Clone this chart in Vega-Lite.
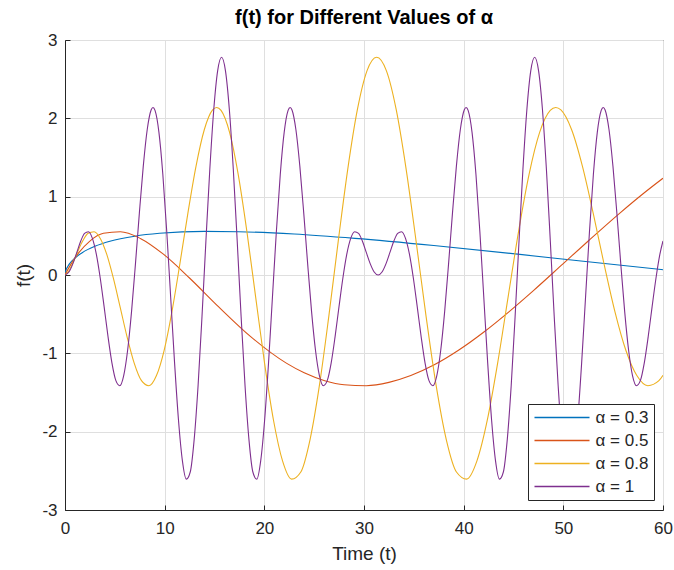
{
 "$schema": "https://vega.github.io/schema/vega-lite/v6.json",
 "width": 598,
 "height": 470,
 "autosize": "none",
 "padding": {"left": 65, "top": 40, "right": 11, "bottom": 60},
 "background": "white",
 "title": {"text": "f(t) for Different Values of α", "fontSize": 20, "fontWeight": "bold", "font": "Liberation Sans", "color": "black", "offset": 3, "anchor": "middle"},
 "config": {"view": {"stroke": "#262626", "strokeWidth": 1}, "font": "Liberation Sans"},
 "data": {"values": [
  {"a":"α = 0.3","t":0,"f":0},{"a":"α = 0.3","t":0.044,"f":0.038},{"a":"α = 0.3","t":0.447,"f":0.142},{"a":"α = 0.3","t":1,"f":0.217},{"a":"α = 0.3","t":1.727,"f":0.285},{"a":"α = 0.3","t":3,"f":0.366},{"a":"α = 0.3","t":4.506,"f":0.430},{"a":"α = 0.3","t":7,"f":0.495},{"a":"α = 0.3","t":9.479,"f":0.532},{"a":"α = 0.3","t":14,"f":0.557},{"a":"α = 0.3","t":17.408,"f":0.553},{"a":"α = 0.3","t":23,"f":0.523},{"a":"α = 0.3","t":29.095,"f":0.467},{"a":"α = 0.3","t":37,"f":0.376},{"a":"α = 0.3","t":45.41,"f":0.266},{"a":"α = 0.3","t":52,"f":0.175},{"a":"α = 0.3","t":60,"f":0.067},

  {"a":"α = 0.5","t":0,"f":0},{"a":"α = 0.5","t":0.154,"f":0.038},{"a":"α = 0.5","t":0.617,"f":0.142},{"a":"α = 0.5","t":1.388,"f":0.285},{"a":"α = 0.5","t":2.467,"f":0.430},{"a":"α = 0.5","t":3.855,"f":0.532},{"a":"α = 0.5","t":5.552,"f":0.553},{"a":"α = 0.5","t":7.557,"f":0.467},{"a":"α = 0.5","t":9.870,"f":0.266},{"a":"α = 0.5","t":12.491,"f":-0.038},{"a":"α = 0.5","t":15.421,"f":-0.407},{"a":"α = 0.5","t":18.660,"f":-0.790},{"a":"α = 0.5","t":22.207,"f":-1.125},{"a":"α = 0.5","t":24,"f":-1.248},{"a":"α = 0.5","t":26.062,"f":-1.349},{"a":"α = 0.5","t":28,"f":-1.401},{"a":"α = 0.5","t":30.226,"f":-1.413},{"a":"α = 0.5","t":32.5,"f":-1.371},{"a":"α = 0.5","t":34.698,"f":-1.284},{"a":"α = 0.5","t":37,"f":-1.150},{"a":"α = 0.5","t":39.478,"f":-0.961},{"a":"α = 0.5","t":42,"f":-0.731},{"a":"α = 0.5","t":44.567,"f":-0.467},{"a":"α = 0.5","t":47,"f":-0.199},{"a":"α = 0.5","t":49.965,"f":0.142},{"a":"α = 0.5","t":52.5,"f":0.434},{"a":"α = 0.5","t":55.671,"f":0.790},{"a":"α = 0.5","t":58,"f":1.037},{"a":"α = 0.5","t":60,"f":1.235},

  {"a":"α = 0.8","t":0,"f":0},{"a":"α = 0.8","t":0.311,"f":0.038},{"a":"α = 0.8","t":0.739,"f":0.142},{"a":"α = 0.8","t":1.227,"f":0.285},{"a":"α = 0.8","t":1.759,"f":0.430},{"a":"α = 0.8","t":2.324,"f":0.532},{"a":"α = 0.8","t":2.919,"f":0.553},{"a":"α = 0.8","t":3.540,"f":0.467},{"a":"α = 0.8","t":4.183,"f":0.266},{"a":"α = 0.8","t":4.846,"f":-0.038},{"a":"α = 0.8","t":5.528,"f":-0.407},{"a":"α = 0.8","t":6.228,"f":-0.790},{"a":"α = 0.8","t":6.943,"f":-1.125},{"a":"α = 0.8","t":7.674,"f":-1.349},{"a":"α = 0.8","t":8.419,"f":-1.413},{"a":"α = 0.8","t":9.177,"f":-1.284},{"a":"α = 0.8","t":9.948,"f":-0.961},{"a":"α = 0.8","t":10.731,"f":-0.467},{"a":"α = 0.8","t":11.525,"f":0.142},{"a":"α = 0.8","t":12.331,"f":0.790},{"a":"α = 0.8","t":13.148,"f":1.390},{"a":"α = 0.8","t":13.975,"f":1.854},{"a":"α = 0.8","t":14.812,"f":2.107},{"a":"α = 0.8","t":15.221,"f":2.139},{"a":"α = 0.8","t":15.658,"f":2.101},{"a":"α = 0.8","t":16.513,"f":1.820},{"a":"α = 0.8","t":17.378,"f":1.284},{"a":"α = 0.8","t":18.252,"f":0.553},{"a":"α = 0.8","t":19.133,"f":-0.285},{"a":"α = 0.8","t":20.023,"f":-1.125},{"a":"α = 0.8","t":20.920,"f":-1.854},{"a":"α = 0.8","t":21.827,"f":-2.373},{"a":"α = 0.8","t":22.739,"f":-2.606},{"a":"α = 0.8","t":23.660,"f":-2.515},{"a":"α = 0.8","t":24.587,"f":-2.101},{"a":"α = 0.8","t":25.522,"f":-1.413},{"a":"α = 0.8","t":26.465,"f":-0.532},{"a":"α = 0.8","t":27.413,"f":0.430},{"a":"α = 0.8","t":28.368,"f":1.349},{"a":"α = 0.8","t":29.330,"f":2.107},{"a":"α = 0.8","t":30.298,"f":2.606},{"a":"α = 0.8","t":31.272,"f":2.780},{"a":"α = 0.8","t":32.252,"f":2.606},{"a":"α = 0.8","t":33.238,"f":2.107},{"a":"α = 0.8","t":34.230,"f":1.349},{"a":"α = 0.8","t":35.228,"f":0.430},{"a":"α = 0.8","t":36.232,"f":-0.532},{"a":"α = 0.8","t":37.241,"f":-1.413},{"a":"α = 0.8","t":38.256,"f":-2.101},{"a":"α = 0.8","t":39.277,"f":-2.515},{"a":"α = 0.8","t":40.301,"f":-2.606},{"a":"α = 0.8","t":41.332,"f":-2.373},{"a":"α = 0.8","t":42.369,"f":-1.854},{"a":"α = 0.8","t":43.409,"f":-1.125},{"a":"α = 0.8","t":44.454,"f":-0.285},{"a":"α = 0.8","t":45.506,"f":0.553},{"a":"α = 0.8","t":46.562,"f":1.284},{"a":"α = 0.8","t":47.622,"f":1.820},{"a":"α = 0.8","t":48.687,"f":2.101},{"a":"α = 0.8","t":49.237,"f":2.139},{"a":"α = 0.8","t":49.758,"f":2.107},{"a":"α = 0.8","t":50.834,"f":1.854},{"a":"α = 0.8","t":51.912,"f":1.390},{"a":"α = 0.8","t":52.995,"f":0.790},{"a":"α = 0.8","t":54.083,"f":0.142},{"a":"α = 0.8","t":55.175,"f":-0.467},{"a":"α = 0.8","t":56.273,"f":-0.961},{"a":"α = 0.8","t":57.374,"f":-1.284},{"a":"α = 0.8","t":58.480,"f":-1.413},{"a":"α = 0.8","t":59.589,"f":-1.349},{"a":"α = 0.8","t":60,"f":-1.280},

  {"a":"α = 1","t":0,"f":0},{"a":"α = 1","t":0.393,"f":0.038},{"a":"α = 1","t":0.785,"f":0.142},{"a":"α = 1","t":1.178,"f":0.285},{"a":"α = 1","t":1.571,"f":0.430},{"a":"α = 1","t":1.963,"f":0.532},{"a":"α = 1","t":2.356,"f":0.553},{"a":"α = 1","t":2.749,"f":0.467},{"a":"α = 1","t":3.142,"f":0.266},{"a":"α = 1","t":3.534,"f":-0.038},{"a":"α = 1","t":3.927,"f":-0.407},{"a":"α = 1","t":4.320,"f":-0.790},{"a":"α = 1","t":4.712,"f":-1.125},{"a":"α = 1","t":5.105,"f":-1.349},{"a":"α = 1","t":5.498,"f":-1.413},{"a":"α = 1","t":5.890,"f":-1.284},{"a":"α = 1","t":6.283,"f":-0.961},{"a":"α = 1","t":6.676,"f":-0.467},{"a":"α = 1","t":7.069,"f":0.142},{"a":"α = 1","t":7.461,"f":0.790},{"a":"α = 1","t":7.854,"f":1.390},{"a":"α = 1","t":8.247,"f":1.854},{"a":"α = 1","t":8.639,"f":2.107},{"a":"α = 1","t":8.830,"f":2.139},{"a":"α = 1","t":9.032,"f":2.101},{"a":"α = 1","t":9.425,"f":1.820},{"a":"α = 1","t":9.817,"f":1.284},{"a":"α = 1","t":10.210,"f":0.553},{"a":"α = 1","t":10.603,"f":-0.285},{"a":"α = 1","t":10.996,"f":-1.125},{"a":"α = 1","t":11.388,"f":-1.854},{"a":"α = 1","t":11.781,"f":-2.373},{"a":"α = 1","t":12.174,"f":-2.606},{"a":"α = 1","t":12.566,"f":-2.515},{"a":"α = 1","t":12.959,"f":-2.101},{"a":"α = 1","t":13.352,"f":-1.413},{"a":"α = 1","t":13.744,"f":-0.532},{"a":"α = 1","t":14.137,"f":0.430},{"a":"α = 1","t":14.530,"f":1.349},{"a":"α = 1","t":14.923,"f":2.107},{"a":"α = 1","t":15.315,"f":2.606},{"a":"α = 1","t":15.708,"f":2.780},
  {"a":"α = 1","t":16.101,"f":2.606},{"a":"α = 1","t":16.493,"f":2.107},{"a":"α = 1","t":16.886,"f":1.349},{"a":"α = 1","t":17.279,"f":0.430},{"a":"α = 1","t":17.672,"f":-0.532},{"a":"α = 1","t":18.064,"f":-1.413},{"a":"α = 1","t":18.457,"f":-2.101},{"a":"α = 1","t":18.850,"f":-2.515},{"a":"α = 1","t":19.242,"f":-2.606},{"a":"α = 1","t":19.635,"f":-2.373},{"a":"α = 1","t":20.028,"f":-1.854},{"a":"α = 1","t":20.420,"f":-1.125},{"a":"α = 1","t":20.813,"f":-0.285},{"a":"α = 1","t":21.206,"f":0.553},{"a":"α = 1","t":21.599,"f":1.284},{"a":"α = 1","t":21.991,"f":1.820},{"a":"α = 1","t":22.384,"f":2.101},{"a":"α = 1","t":22.586,"f":2.139},{"a":"α = 1","t":22.777,"f":2.107},{"a":"α = 1","t":23.169,"f":1.854},{"a":"α = 1","t":23.562,"f":1.390},{"a":"α = 1","t":23.955,"f":0.790},{"a":"α = 1","t":24.347,"f":0.142},{"a":"α = 1","t":24.740,"f":-0.467},{"a":"α = 1","t":25.133,"f":-0.961},{"a":"α = 1","t":25.526,"f":-1.284},{"a":"α = 1","t":25.918,"f":-1.413},{"a":"α = 1","t":26.311,"f":-1.349},{"a":"α = 1","t":26.704,"f":-1.125},{"a":"α = 1","t":27.096,"f":-0.790},{"a":"α = 1","t":27.489,"f":-0.407},{"a":"α = 1","t":27.882,"f":-0.038},{"a":"α = 1","t":28.274,"f":0.266},{"a":"α = 1","t":28.667,"f":0.467},{"a":"α = 1","t":29.060,"f":0.553},{"a":"α = 1","t":29.453,"f":0.532},{"a":"α = 1","t":29.845,"f":0.430},{"a":"α = 1","t":30.238,"f":0.285},{"a":"α = 1","t":30.631,"f":0.142},{"a":"α = 1","t":31.023,"f":0.038},{"a":"α = 1","t":31.416,"f":0},
  {"a":"α = 1","t":31.809,"f":0.038},{"a":"α = 1","t":32.201,"f":0.142},{"a":"α = 1","t":32.594,"f":0.285},{"a":"α = 1","t":32.987,"f":0.430},{"a":"α = 1","t":33.379,"f":0.532},{"a":"α = 1","t":33.772,"f":0.553},{"a":"α = 1","t":34.165,"f":0.467},{"a":"α = 1","t":34.558,"f":0.266},{"a":"α = 1","t":34.950,"f":-0.038},{"a":"α = 1","t":35.343,"f":-0.407},{"a":"α = 1","t":35.736,"f":-0.790},{"a":"α = 1","t":36.128,"f":-1.125},{"a":"α = 1","t":36.521,"f":-1.349},{"a":"α = 1","t":36.914,"f":-1.413},{"a":"α = 1","t":37.306,"f":-1.284},{"a":"α = 1","t":37.699,"f":-0.961},{"a":"α = 1","t":38.092,"f":-0.467},{"a":"α = 1","t":38.485,"f":0.142},{"a":"α = 1","t":38.877,"f":0.790},{"a":"α = 1","t":39.270,"f":1.390},{"a":"α = 1","t":39.663,"f":1.854},{"a":"α = 1","t":40.055,"f":2.107},{"a":"α = 1","t":40.246,"f":2.139},{"a":"α = 1","t":40.448,"f":2.101},{"a":"α = 1","t":40.841,"f":1.820},{"a":"α = 1","t":41.233,"f":1.284},{"a":"α = 1","t":41.626,"f":0.553},{"a":"α = 1","t":42.019,"f":-0.285},{"a":"α = 1","t":42.412,"f":-1.125},{"a":"α = 1","t":42.804,"f":-1.854},{"a":"α = 1","t":43.197,"f":-2.373},{"a":"α = 1","t":43.590,"f":-2.606},{"a":"α = 1","t":43.982,"f":-2.515},{"a":"α = 1","t":44.375,"f":-2.101},{"a":"α = 1","t":44.768,"f":-1.413},{"a":"α = 1","t":45.160,"f":-0.532},{"a":"α = 1","t":45.553,"f":0.430},{"a":"α = 1","t":45.946,"f":1.349},{"a":"α = 1","t":46.339,"f":2.107},{"a":"α = 1","t":46.731,"f":2.606},{"a":"α = 1","t":47.124,"f":2.780},
  {"a":"α = 1","t":47.517,"f":2.606},{"a":"α = 1","t":47.909,"f":2.107},{"a":"α = 1","t":48.302,"f":1.349},{"a":"α = 1","t":48.695,"f":0.430},{"a":"α = 1","t":49.087,"f":-0.532},{"a":"α = 1","t":49.480,"f":-1.413},{"a":"α = 1","t":49.873,"f":-2.101},{"a":"α = 1","t":50.265,"f":-2.515},{"a":"α = 1","t":50.658,"f":-2.606},{"a":"α = 1","t":51.051,"f":-2.373},{"a":"α = 1","t":51.444,"f":-1.854},{"a":"α = 1","t":51.836,"f":-1.125},{"a":"α = 1","t":52.229,"f":-0.285},{"a":"α = 1","t":52.622,"f":0.553},{"a":"α = 1","t":53.014,"f":1.284},{"a":"α = 1","t":53.407,"f":1.820},{"a":"α = 1","t":53.800,"f":2.101},{"a":"α = 1","t":54.002,"f":2.139},{"a":"α = 1","t":54.193,"f":2.107},{"a":"α = 1","t":54.585,"f":1.854},{"a":"α = 1","t":54.978,"f":1.390},{"a":"α = 1","t":55.371,"f":0.790},{"a":"α = 1","t":55.763,"f":0.142},{"a":"α = 1","t":56.156,"f":-0.467},{"a":"α = 1","t":56.549,"f":-0.961},{"a":"α = 1","t":56.941,"f":-1.284},{"a":"α = 1","t":57.334,"f":-1.413},{"a":"α = 1","t":57.727,"f":-1.349},{"a":"α = 1","t":58.119,"f":-1.125},{"a":"α = 1","t":58.512,"f":-0.790},{"a":"α = 1","t":58.905,"f":-0.407},{"a":"α = 1","t":59.298,"f":-0.038},{"a":"α = 1","t":59.690,"f":0.266},{"a":"α = 1","t":60,"f":0.434}
 ]},
 "mark": {"type": "line", "interpolate": "monotone", "strokeWidth": 1.1, "clip": true},
 "encoding": {
  "x": {"field": "t", "type": "quantitative",
        "scale": {"domain": [0, 60], "nice": false, "zero": false},
        "axis": {"values": [0,10,20,30,40,50,60], "title": "Time (t)", "titleFontSize": 19, "titleFontWeight": "normal", "titleColor": "#262626", "titlePadding": 8,
                 "labelFontSize": 17, "labelColor": "#262626", "labelPadding": 15, "tickSize": -5, "tickColor": "#262626", "domainColor": "#262626",
                 "grid": true, "gridColor": "#dfdfdf", "labelFlush": false}},
  "y": {"field": "f", "type": "quantitative",
        "scale": {"domain": [-3, 3], "nice": false, "zero": false},
        "axis": {"values": [-3,-2,-1,0,1,2,3], "title": "f(t)", "titleFontSize": 19, "titleFontWeight": "normal", "titleColor": "#262626", "titlePadding": 8,
                 "labelExpr": "datum.value < 0 ? '-' + abs(datum.value) : '' + datum.value",
                 "labelFontSize": 17, "labelColor": "#262626", "labelPadding": 13, "tickSize": -5, "tickColor": "#262626", "domainColor": "#262626",
                 "grid": true, "gridColor": "#dfdfdf", "labelFlush": false}},
  "color": {"field": "a", "type": "nominal",
            "scale": {"domain": ["α = 0.3", "α = 0.5", "α = 0.8", "α = 1"], "range": ["#0072BD", "#D95319", "#EDB120", "#7E2F8E"]},
            "legend": {"title": null, "orient": "none", "legendX": 463, "legendY": 364,
                       "symbolType": "M-3.93,0H3.93", "symbolSize": 196, "symbolOffset": 20.5, "symbolStrokeWidth": 1.5,
                       "labelFontSize": 17, "labelColor": "#262626", "labelOffset": 25, "rowPadding": 5, "padding": 5,
                       "fillColor": "white", "strokeColor": "#262626"}}
 }
}
